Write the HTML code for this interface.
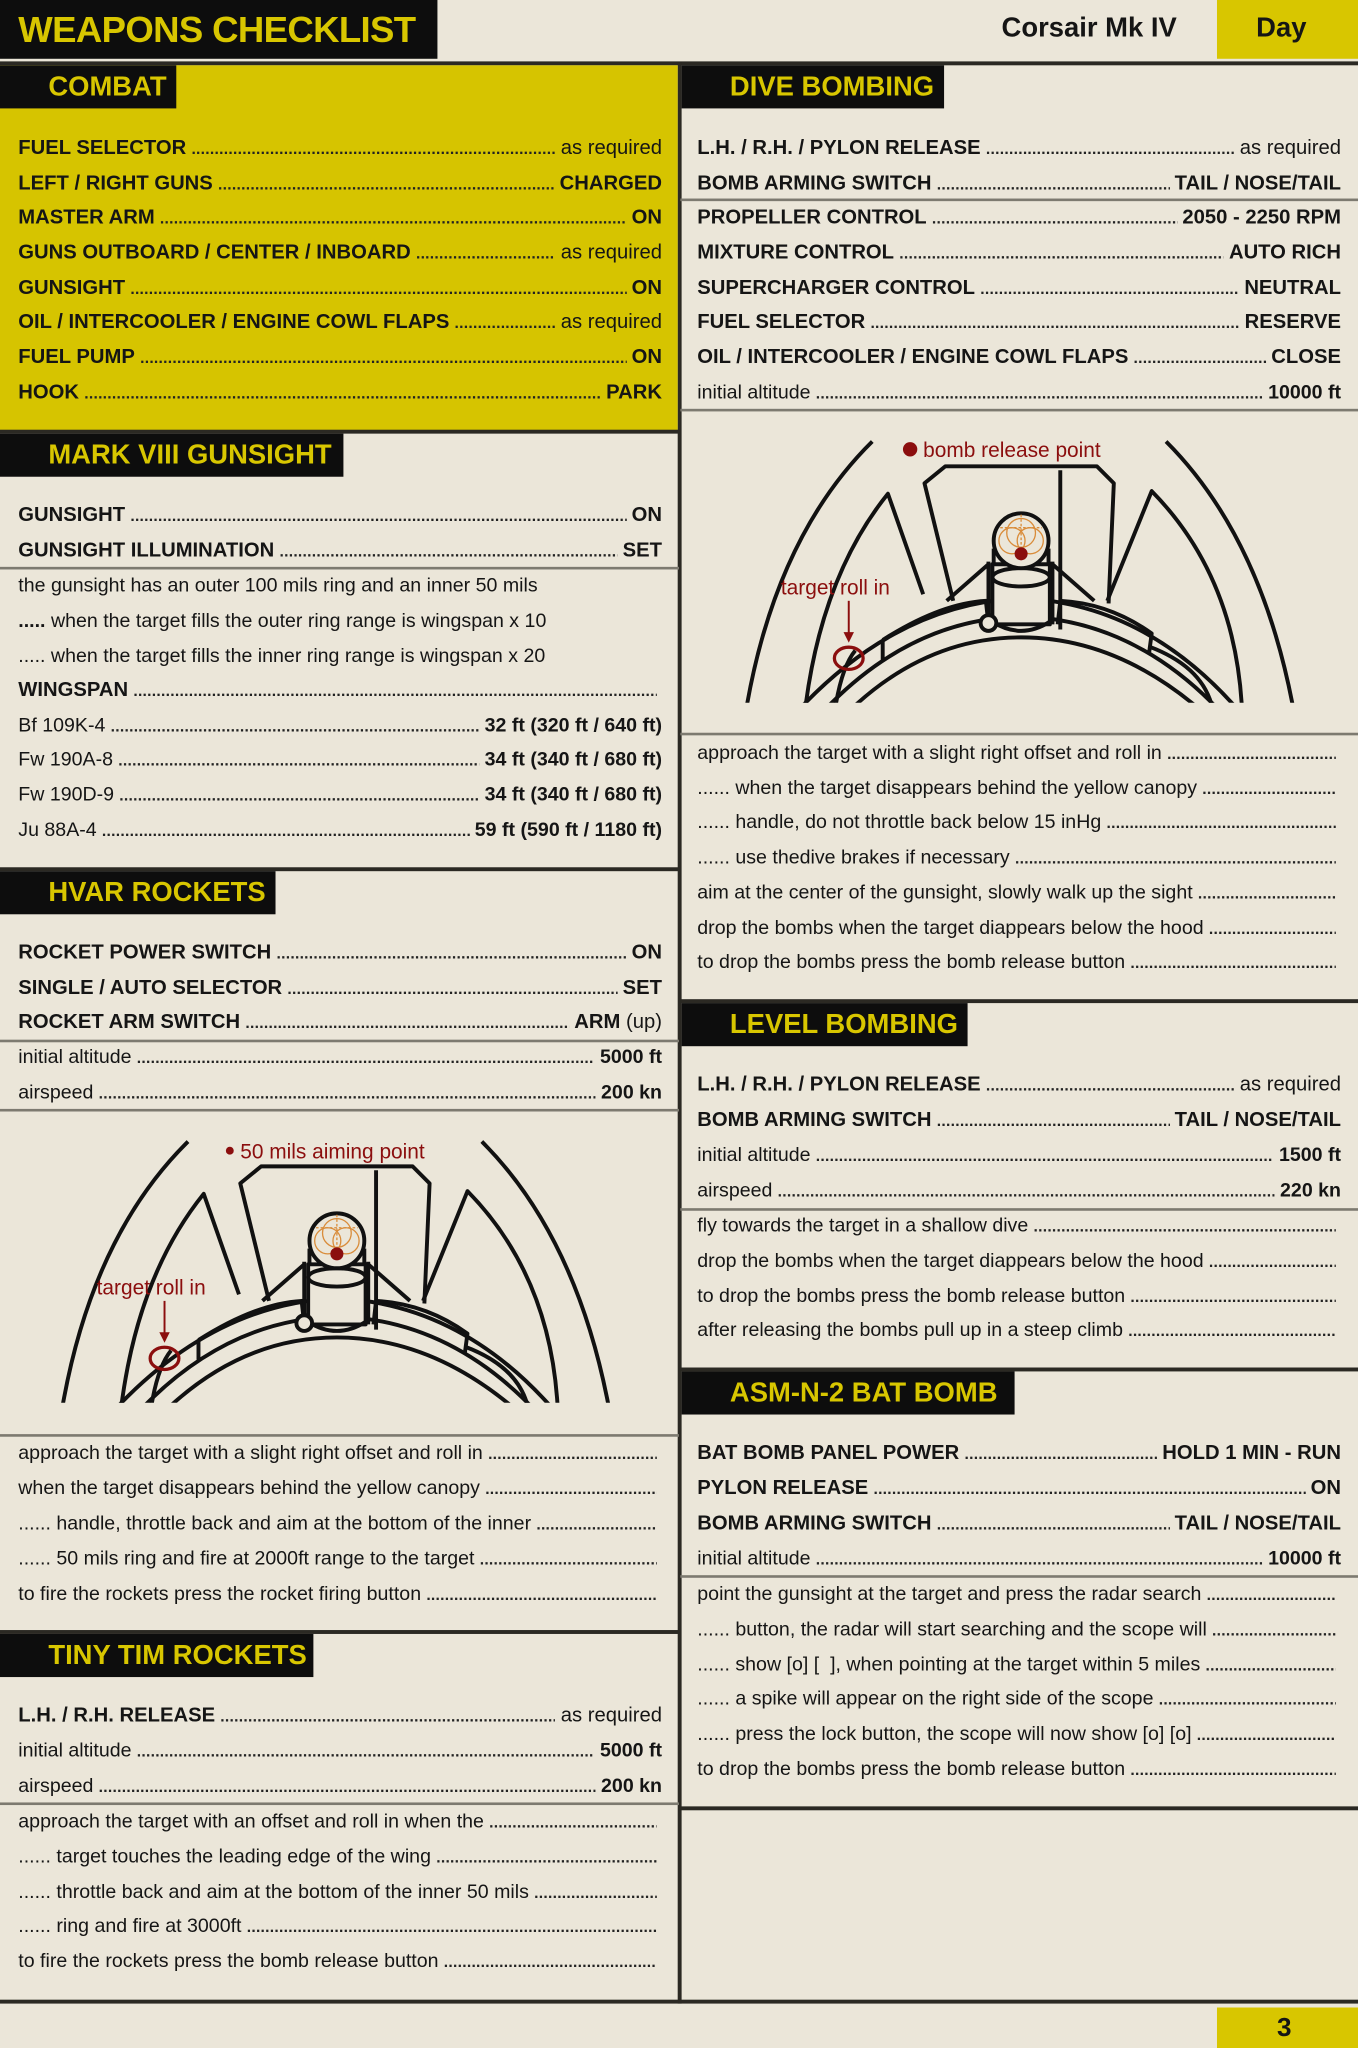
<!DOCTYPE html>
<html><head><meta charset="utf-8"><style>
*{margin:0;padding:0;box-sizing:border-box}
html,body{width:1358px;height:2048px;overflow:hidden;background:#ebe6d9}
#w{position:absolute;left:0;top:0;width:1040px;height:1568px;transform:scale(1.30577,1.30612);transform-origin:0 0;font-family:"Liberation Sans",sans-serif;color:#151515}
.a{position:absolute}
.tk{position:absolute;height:3px;background:#2b2923}
.tn{position:absolute;height:1.5px;background:#7d7a70}
.tt{position:absolute;height:33px;background:#0d0d0d;color:#d8c600;font-weight:bold;font-size:21px;line-height:34px;padding-left:37px;white-space:nowrap}
.r{position:absolute;height:27px;line-height:27px;display:flex;align-items:baseline;white-space:nowrap;font-size:15px}
.L{left:14px;width:493px}.R{left:534px;width:493px}
.r i{flex:1;overflow:hidden;margin:0 4px;font-style:normal;font-size:12px;font-weight:bold;letter-spacing:0.2px;min-width:6px;color:#222}
.r i::before{content:"................................................................................................................................................................................................................................"}
.b{font-weight:bold;font-size:15.5px}
.r b{font-weight:bold}
</style></head><body><div id="w">
<!-- header -->
<div class="a" style="left:0;top:0;width:335px;height:45px;background:#0d0d0d"></div>
<div class="a" style="left:14px;top:4px;color:#d8c600;font-weight:bold;font-size:28px;line-height:38px;letter-spacing:-0.5px">WEAPONS CHECKLIST</div>
<div class="a" style="left:767px;top:8px;font-weight:bold;font-size:21px;line-height:28px">Corsair Mk IV</div>
<div class="a" style="left:932px;top:0;width:108px;height:45px;background:#d8c600"></div>
<div class="a" style="left:962px;top:8px;font-weight:bold;font-size:21px;line-height:28px">Day</div>
<div class="tk" style="left:0;top:47px;width:1040px"></div>
<div class="a" style="left:519px;top:48px;width:2.5px;height:1486px;background:#2b2923"></div>
<div class="tk" style="left:0;top:1531px;width:1040px"></div>
<div class="a" style="left:932px;top:1537px;width:108px;height:31px;background:#d8c600"></div>
<div class="a" style="left:978px;top:1540px;font-weight:bold;font-size:20px;line-height:26px">3</div>

<!-- COMBAT -->
<div class="a" style="left:0;top:50px;width:519px;height:280px;background:#d6c400"></div>
<div class="tt" style="left:0;top:50px;width:135px">COMBAT</div>
<div class="r L b" style="top:100px"><span>FUEL SELECTOR</span><i></i><span style="font-weight:normal">as required</span></div>
<div class="r L b" style="top:127px"><span>LEFT / RIGHT GUNS</span><i></i><span>CHARGED</span></div>
<div class="r L b" style="top:153px"><span>MASTER ARM</span><i></i><span>ON</span></div>
<div class="r L b" style="top:180px"><span>GUNS OUTBOARD / CENTER / INBOARD</span><i></i><span style="font-weight:normal">as required</span></div>
<div class="r L b" style="top:207px"><span>GUNSIGHT</span><i></i><span>ON</span></div>
<div class="r L b" style="top:233px"><span>OIL / INTERCOOLER / ENGINE COWL FLAPS</span><i></i><span style="font-weight:normal">as required</span></div>
<div class="r L b" style="top:260px"><span>FUEL PUMP</span><i></i><span>ON</span></div>
<div class="r L b" style="top:287px"><span>HOOK</span><i></i><span>PARK</span></div>
<div class="tk" style="left:0;top:329px;width:520px"></div>

<!-- MARK VIII -->
<div class="tt" style="left:0;top:332px;width:263px">MARK VIII GUNSIGHT</div>
<div class="r L b" style="top:381px"><span>GUNSIGHT</span><i></i><span>ON</span></div>
<div class="r L b" style="top:408px"><span>GUNSIGHT ILLUMINATION</span><i></i><span>SET</span></div>
<div class="tn" style="left:0;top:434px;width:520px"></div>
<div class="r L" style="top:435px"><span>the gunsight has an outer 100 mils ring and an inner 50 mils</span></div>
<div class="r L" style="top:462px"><span><b>.....</b> when the target fills the outer ring range is wingspan x 10</span></div>
<div class="r L" style="top:489px"><span>..... when the target fills the inner ring range is wingspan x 20</span></div>
<div class="r L b" style="top:515px"><span>WINGSPAN</span><i></i></div>
<div class="r L" style="top:542px"><span>Bf 109K-4</span><i></i><b>32 ft (320 ft / 640 ft)</b></div>
<div class="r L" style="top:568px"><span>Fw 190A-8</span><i></i><b>34 ft (340 ft / 680 ft)</b></div>
<div class="r L" style="top:595px"><span>Fw 190D-9</span><i></i><b>34 ft (340 ft / 680 ft)</b></div>
<div class="r L" style="top:622px"><span>Ju 88A-4</span><i></i><b>59 ft (590 ft / 1180 ft)</b></div>
<div class="tk" style="left:0;top:664px;width:520px"></div>

<!-- HVAR -->
<div class="tt" style="left:0;top:667px;width:211px">HVAR ROCKETS</div>
<div class="r L b" style="top:716px"><span>ROCKET POWER SWITCH</span><i></i><span>ON</span></div>
<div class="r L b" style="top:743px"><span>SINGLE / AUTO SELECTOR</span><i></i><span>SET</span></div>
<div class="r L b" style="top:769px"><span>ROCKET ARM SWITCH</span><i></i><span>ARM <span style="font-weight:normal">(up)</span></span></div>
<div class="tn" style="left:0;top:796px;width:520px"></div>
<div class="r L" style="top:796px"><span>initial altitude</span><i></i><b>5000 ft</b></div>
<div class="r L" style="top:823px"><span>airspeed</span><i></i><b>200 kn</b></div>
<div class="tn" style="left:0;top:849px;width:520px"></div>
<div class="tn" style="left:0;top:1098px;width:520px"></div>
<div class="r L" style="top:1099px"><span>approach the target with a slight right offset and roll in</span><i></i></div>
<div class="r L" style="top:1126px"><span>when the target disappears behind the yellow canopy</span><i></i></div>
<div class="r L" style="top:1153px"><span>...... handle, throttle back and aim at the bottom of the inner</span><i></i></div>
<div class="r L" style="top:1180px"><span>...... 50 mils ring and fire at 2000ft range to the target</span><i></i></div>
<div class="r L" style="top:1207px"><span>to fire the rockets press the rocket firing button</span><i></i></div>
<div class="tk" style="left:0;top:1248px;width:520px"></div>

<!-- TINY TIM -->
<div class="tt" style="left:0;top:1251px;width:240px">TINY TIM ROCKETS</div>
<div class="r L b" style="top:1300px"><span>L.H. / R.H. RELEASE</span><i></i><span style="font-weight:normal">as required</span></div>
<div class="r L" style="top:1327px"><span>initial altitude</span><i></i><b>5000 ft</b></div>
<div class="r L" style="top:1354px"><span>airspeed</span><i></i><b>200 kn</b></div>
<div class="tn" style="left:0;top:1380px;width:520px"></div>
<div class="r L" style="top:1381px"><span>approach the target with an offset and roll in when the</span><i></i></div>
<div class="r L" style="top:1408px"><span>...... target touches the leading edge of the wing</span><i></i></div>
<div class="r L" style="top:1435px"><span>...... throttle back and aim at the bottom of the inner 50 mils</span><i></i></div>
<div class="r L" style="top:1461px"><span>...... ring and fire at 3000ft</span><i></i></div>
<div class="r L" style="top:1488px"><span>to fire the rockets press the bomb release button</span><i></i></div>

<!-- DIVE BOMBING -->
<div class="tt" style="left:522px;top:50px;width:201px">DIVE BOMBING</div>
<div class="r R b" style="top:100px"><span>L.H. / R.H. / PYLON RELEASE</span><i></i><span style="font-weight:normal">as required</span></div>
<div class="r R b" style="top:127px"><span>BOMB ARMING SWITCH</span><i></i><span>TAIL / NOSE/TAIL</span></div>
<div class="tn" style="left:521px;top:152px;width:519px"></div>
<div class="r R b" style="top:153px"><span>PROPELLER CONTROL</span><i></i><span>2050 - 2250 RPM</span></div>
<div class="r R b" style="top:180px"><span>MIXTURE CONTROL</span><i></i><span>AUTO RICH</span></div>
<div class="r R b" style="top:207px"><span>SUPERCHARGER CONTROL</span><i></i><span>NEUTRAL</span></div>
<div class="r R b" style="top:233px"><span>FUEL SELECTOR</span><i></i><span>RESERVE</span></div>
<div class="r R b" style="top:260px"><span>OIL / INTERCOOLER / ENGINE COWL FLAPS</span><i></i><span>CLOSE</span></div>
<div class="r R" style="top:287px"><span>initial altitude</span><i></i><b>10000 ft</b></div>
<div class="tn" style="left:521px;top:313px;width:519px"></div>
<div class="tn" style="left:521px;top:561px;width:519px"></div>
<div class="r R" style="top:563px"><span>approach the target with a slight right offset and roll in</span><i></i></div>
<div class="r R" style="top:590px"><span>...... when the target disappears behind the yellow canopy</span><i></i></div>
<div class="r R" style="top:616px"><span>...... handle, do not throttle back below 15 inHg</span><i></i></div>
<div class="r R" style="top:643px"><span>......  use thedive brakes if necessary</span><i></i></div>
<div class="r R" style="top:670px"><span>aim at the center of the gunsight, slowly walk up the sight</span><i></i></div>
<div class="r R" style="top:697px"><span>drop the bombs when the target diappears below the hood</span><i></i></div>
<div class="r R" style="top:723px"><span>to drop the bombs press the bomb release button</span><i></i></div>
<div class="tk" style="left:521px;top:765px;width:519px"></div>

<!-- LEVEL BOMBING -->
<div class="tt" style="left:522px;top:768px;width:219px">LEVEL BOMBING</div>
<div class="r R b" style="top:817px"><span>L.H. / R.H. / PYLON RELEASE</span><i></i><span style="font-weight:normal">as required</span></div>
<div class="r R b" style="top:844px"><span>BOMB ARMING SWITCH</span><i></i><span>TAIL / NOSE/TAIL</span></div>
<div class="r R" style="top:871px"><span>initial altitude</span><i></i><b>1500 ft</b></div>
<div class="r R" style="top:898px"><span>airspeed</span><i></i><b>220 kn</b></div>
<div class="tn" style="left:521px;top:925px;width:519px"></div>
<div class="r R" style="top:925px"><span>fly towards the target in a shallow dive</span><i></i></div>
<div class="r R" style="top:952px"><span>drop the bombs when the target diappears below the hood</span><i></i></div>
<div class="r R" style="top:979px"><span>to drop the bombs press the bomb release button</span><i></i></div>
<div class="r R" style="top:1005px"><span>after releasing the bombs pull up in a steep climb</span><i></i></div>
<div class="tk" style="left:521px;top:1047px;width:519px"></div>

<!-- BAT BOMB -->
<div class="tt" style="left:522px;top:1050px;width:255px">ASM-N-2 BAT BOMB</div>
<div class="r R b" style="top:1099px"><span>BAT BOMB PANEL POWER</span><i></i><span>HOLD 1 MIN - RUN</span></div>
<div class="r R b" style="top:1126px"><span>PYLON RELEASE</span><i></i><span>ON</span></div>
<div class="r R b" style="top:1153px"><span>BOMB ARMING SWITCH</span><i></i><span>TAIL / NOSE/TAIL</span></div>
<div class="r R" style="top:1180px"><span>initial altitude</span><i></i><b>10000 ft</b></div>
<div class="tn" style="left:521px;top:1206px;width:519px"></div>
<div class="r R" style="top:1207px"><span>point the gunsight at the target and press the radar search</span><i></i></div>
<div class="r R" style="top:1234px"><span>...... button, the radar will start searching and the scope will</span><i></i></div>
<div class="r R" style="top:1261px"><span>...... show [o] [ &nbsp;], when pointing at the target within 5 miles</span><i></i></div>
<div class="r R" style="top:1287px"><span>...... a spike will appear on the right side of the scope</span><i></i></div>
<div class="r R" style="top:1314px"><span>...... press the lock button, the scope will now show [o] [o]</span><i></i></div>
<div class="r R" style="top:1341px"><span>to drop the bombs press the bomb release button</span><i></i></div>
<div class="tk" style="left:521px;top:1383px;width:519px"></div>

<!-- diagrams -->
<svg class="a" style="left:0;top:0" width="1040" height="1568" viewBox="0 0 1040 1568">
<defs>
<clipPath id="c"><rect x="522" y="330" width="518" height="208"/></clipPath>
<g id="dg">
<g clip-path="url(#c)" fill="none" stroke="#111" stroke-width="3" stroke-linejoin="round">
<path d="M572,540 Q595,410 668,338"/>
<path d="M893,338 Q965,410 990,540"/>
<path d="M617,540 Q630,440 680,378 L707,455"/>
<path d="M951,540 Q945,440 882,376 L848,460"/>
<path d="M730,460 L708,370 L724,357 L840,357 L853,370 L849,462"/>
<path d="M812,360 L812,482"/>
<path d="M615,540 Q690,462 782,458 Q875,462 945,540"/>
<path d="M635,540 Q700,474 782,472 Q865,474 930,540"/>
<path d="M655,540 Q712,488 782,488 Q852,488 915,540"/>
<path d="M676,490 L676,505 M676,490 Q720,462 755,460 L757,478 M810,478 L812,460 Q850,462 882,485 L880,500"/>
<path d="M640,540 Q645,510 655,498"/>
<path d="M928,540 Q920,510 880,495"/>
<path d="M757,478 L757,430 M806,478 L806,430"/>
<path d="M725,460 L757,432 M838,460 L806,432"/>
<rect x="760" y="432" width="44" height="46" fill="#ebe6d9"/>
<ellipse cx="782" cy="442" rx="22" ry="7"/>
<path d="M760,476 Q782,490 804,476"/>
<circle cx="757" cy="477" r="6" fill="#ebe6d9"/>
<circle cx="782" cy="414" r="21" fill="#ebe6d9"/>
<path d="M761,420 L761,432 M803,420 L803,432"/>
</g>
<g fill="none" stroke="#d98c3a" stroke-width="1">
<circle cx="782" cy="408" r="11"/><circle cx="775" cy="414" r="10"/><circle cx="789" cy="414" r="10"/>
<path d="M766,404 L798,404 M782,394 L782,428" stroke-dasharray="2 1.5"/>
</g>
<circle cx="782" cy="424" r="5" fill="#8b0e0e"/>
<ellipse cx="650" cy="504" rx="11" ry="8.5" fill="none" stroke="#8b0e0e" stroke-width="2.5"/>
<path d="M650,460 L650,488" stroke="#8b0e0e" stroke-width="1.5"/>
<path d="M646,484 L650,492 L654,484 Z" fill="#8b0e0e"/>
<text x="598" y="455" fill="#8b0e0e" font-size="16" font-family="Liberation Sans,sans-serif">target roll in</text>
</g>
</defs>
<use href="#dg"/>
<circle cx="697" cy="344" r="5.5" fill="#8b0e0e"/>
<text x="707" y="350" fill="#8b0e0e" font-size="16" font-family="Liberation Sans,sans-serif">bomb release point</text>
<use href="#dg" transform="translate(-524,536)"/>
<circle cx="176" cy="881" r="3" fill="#8b0e0e"/>
<text x="184" y="887" fill="#8b0e0e" font-size="16" font-family="Liberation Sans,sans-serif">50 mils aiming point</text>
</svg>
</div></body></html>
